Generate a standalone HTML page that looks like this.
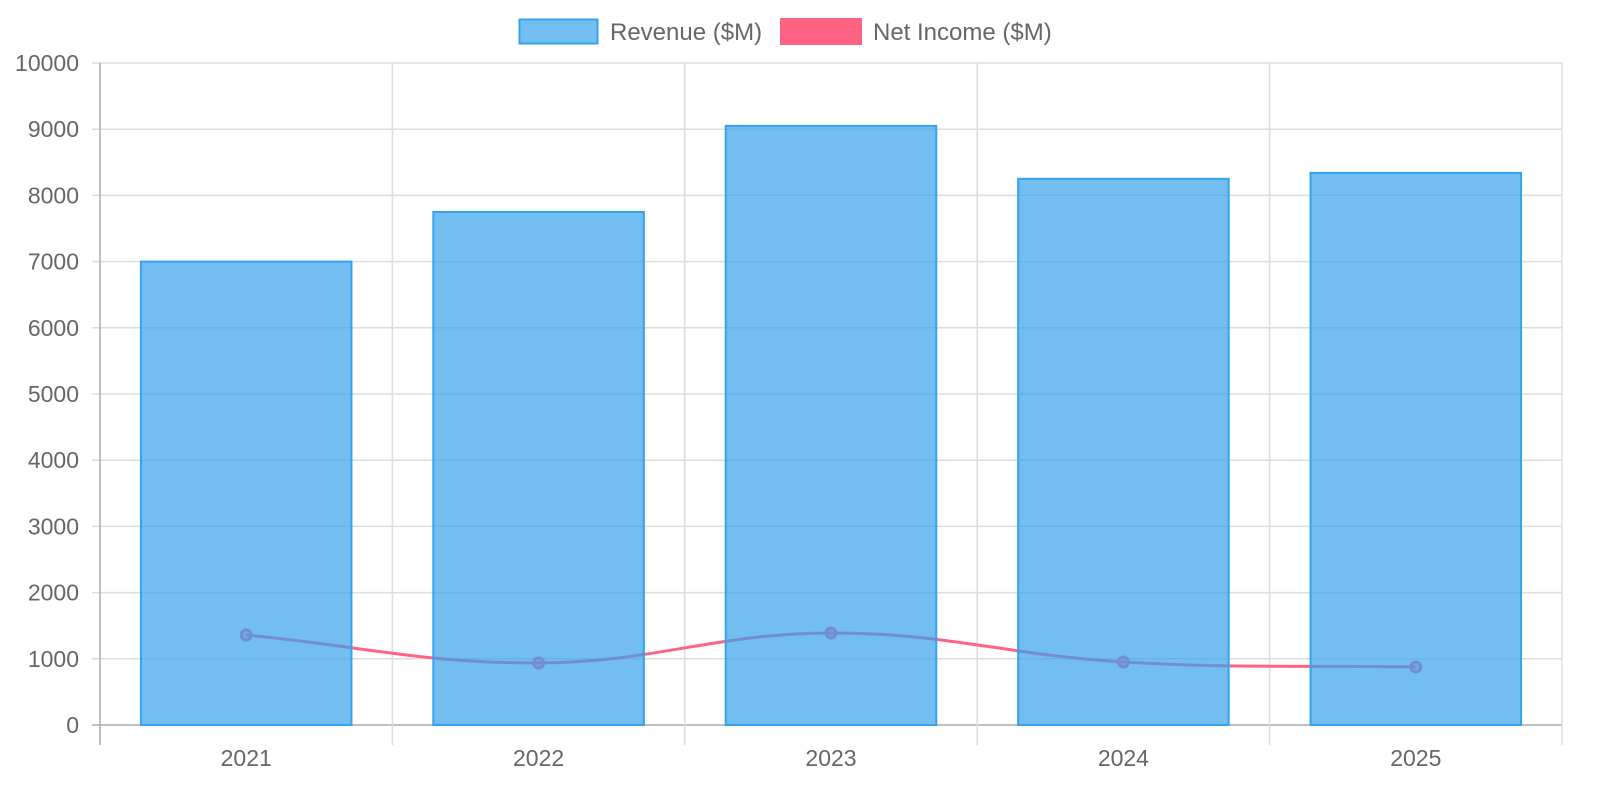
<!DOCTYPE html>
<html><head><meta charset="utf-8"><style>
body{margin:0;background:#fff;}
svg{display:block;font-family:"Liberation Sans",sans-serif;}
</style></head><body>
<svg id="chart" width="1600" height="800">
<g>
<g>
<rect x="519.5" y="19.5" width="78" height="24" fill="rgba(54,162,235,0.7)" stroke="#36a2eb" stroke-width="2"/>
<text x="610" y="40" font-size="24" fill="#666">Revenue ($M)</text></g>
<g>
<rect x="780" y="18" width="82" height="27" fill="#ff6384"/>
<text x="873" y="40" font-size="24" fill="#666">Net Income ($M)</text></g>
</g>
<g id="grid"></g>
<g id="ylabels"></g>
<g id="xlabels"></g>
<g id="line"></g>
<g id="bars"></g>
</svg>
<script>
const categories=["2021","2022","2023","2024","2025"];
const revenue=[7000,7750,9050,8250,8340];
const netIncome=[1360,937,1390,952,876];
const yTicks=[0,1000,2000,3000,4000,5000,6000,7000,8000,9000,10000];
const NS="http://www.w3.org/2000/svg";
const L=100,R=1562,T=63,B=725,yMax=10000;
const cw=(R-L)/categories.length;
const xc=i=>L+cw*(i+0.5);
const y=v=>B-(v/yMax)*(B-T);
function mk(tag,attrs,parent){const e=document.createElementNS(NS,tag);for(const k in attrs)e.setAttribute(k,attrs[k]);parent.appendChild(e);return e;}
const grid=document.getElementById('grid'),yl=document.getElementById('ylabels'),xl=document.getElementById('xlabels');
yTicks.forEach(t=>{
  const l=mk('line',{x1:L-8,x2:R,y1:y(t),y2:y(t),stroke:t===0?'#aaa':'#ddd','stroke-width':1.5},grid);
  
  
  const tx=mk('text',{x:79,y:y(t)+8,'text-anchor':'end','font-size':23,fill:'#666'},yl);
  tx.textContent=t;
  
  
});
for(let i=0;i<=categories.length;i++){
  const x=L+cw*i;
  const l=mk('line',{x1:x,x2:x,y1:T,y2:745,stroke:i===0?'#aaa':'#ddd','stroke-width':1.5},grid);
  
  
}
categories.forEach((c,i)=>{
  const tx=mk('text',{x:xc(i),y:766,'text-anchor':'middle','font-size':23,fill:'#666'},xl);
  tx.textContent=c;
  
  
});
const pts=netIncome.map((v,i)=>[xc(i),y(v)]);
const t=0.4;let d=`M${pts[0][0]},${pts[0][1]}`;
const cps=pts.map((p,i)=>{
  const prev=pts[i-1]||p,next=pts[i+1]||p;
  const d01=Math.hypot(p[0]-prev[0],p[1]-prev[1]),d12=Math.hypot(next[0]-p[0],next[1]-p[1]);
  const s=d01+d12||1;const fa=t*d01/s,fb=t*d12/s;
  return {prev:[p[0]-fa*(next[0]-prev[0]),p[1]-fa*(next[1]-prev[1])],next:[p[0]+fb*(next[0]-prev[0]),p[1]+fb*(next[1]-prev[1])]};
});
for(let i=1;i<pts.length;i++){d+=` C${cps[i-1].next[0]},${cps[i-1].next[1]} ${cps[i].prev[0]},${cps[i].prev[1]} ${pts[i][0]},${pts[i][1]}`;}
const lg=document.getElementById('line');
const path=mk('path',{d:d,fill:'none',stroke:'#ff6384','stroke-width':3},lg);


pts.forEach(p=>{
  const c=mk('circle',{cx:p[0],cy:p[1],r:5,fill:'rgba(255,99,132,0.5)',stroke:'#ff6384','stroke-width':3},lg);
  
  
});
const bg=document.getElementById('bars');
const bw=cw*0.72;
revenue.forEach((v,i)=>{
  const r=mk('rect',{x:xc(i)-bw/2,y:y(v),width:bw,height:B-y(v),fill:'rgba(54,162,235,0.7)',stroke:'#36a2eb','stroke-width':2},bg);
  
  
});
</script>
</body></html>
